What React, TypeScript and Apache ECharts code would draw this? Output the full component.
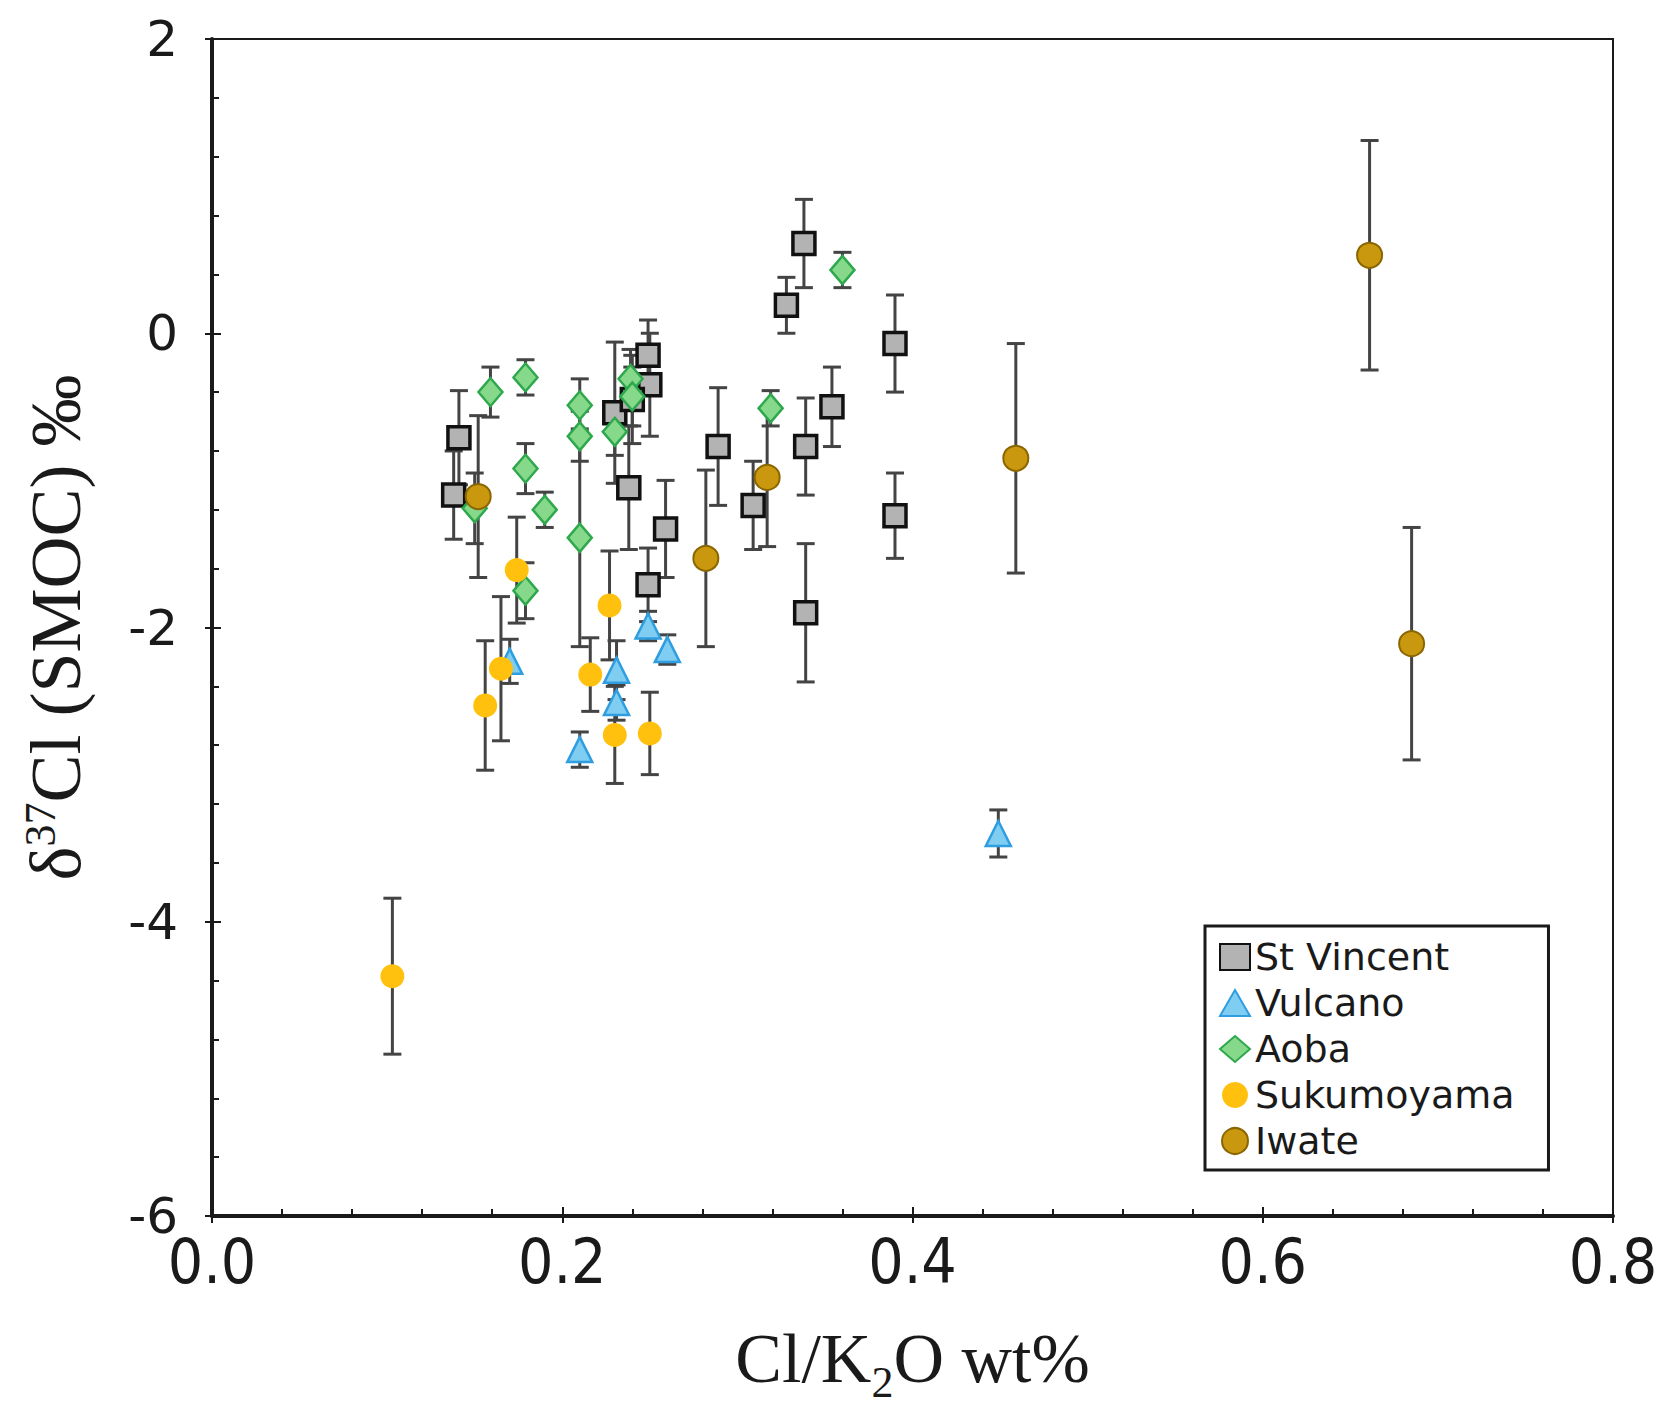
import React, { useEffect, useRef } from "react";
import * as echarts from "echarts";

// [Cl/K2O wt%, δ37Cl ‰, error ±]
const stVincent: number[][] = [
  [0.138, -1.10, 0.30], [0.141, -0.71, 0.32], [0.230, -0.54, 0.48], [0.249, -0.15, 0.24],
  [0.250, -0.35, 0.35], [0.240, -0.45, 0.30], [0.238, -1.05, 0.42], [0.259, -1.33, 0.33],
  [0.249, -1.71, 0.25], [0.289, -0.77, 0.40], [0.309, -1.17, 0.30], [0.339, -0.77, 0.33],
  [0.328, 0.19, 0.19], [0.338, 0.61, 0.30], [0.354, -0.50, 0.27], [0.390, -0.07, 0.33],
  [0.390, -1.24, 0.29], [0.339, -1.90, 0.47],
];
const vulcano: number[][] = [
  [0.170, -2.23, 0.15], [0.231, -2.29, 0.20], [0.231, -2.51, 0.12], [0.210, -2.83, 0.12],
  [0.249, -1.99, 0.10], [0.260, -2.15, 0.10], [0.449, -3.40, 0.16],
];
const aoba: number[][] = [
  [0.159, -0.40, 0.17], [0.179, -0.30, 0.12], [0.210, -0.49, 0.18], [0.210, -0.70, 0.17],
  [0.210, -1.39, 0.74], [0.179, -0.92, 0.17], [0.190, -1.20, 0.12], [0.150, -1.19, 0.24],
  [0.239, -0.31, 0.20], [0.240, -0.43, 0.20], [0.230, -0.67, 0.16], [0.179, -1.75, 0.19],
  [0.319, -0.51, 0.12], [0.360, 0.43, 0.12],
];
const sukumoyama: number[][] = [
  [0.103, -4.37, 0.53], [0.174, -1.61, 0.36], [0.227, -1.85, 0.37], [0.216, -2.32, 0.25],
  [0.230, -2.73, 0.33], [0.250, -2.72, 0.28], [0.156, -2.53, 0.44], [0.165, -2.28, 0.49],
];
const iwate: number[][] = [
  [0.152, -1.11, 0.55], [0.282, -1.53, 0.60], [0.317, -0.98, 0.47], [0.459, -0.85, 0.78],
  [0.661, 0.53, 0.78], [0.685, -2.11, 0.79],
];

const seriesNames = ["St Vincent", "Vulcano", "Aoba", "Sukumoyama", "Iwate"];
const xTicks = { min: 0, max: 0.8, interval: 0.2 };
const yTicks = { min: -6, max: 2, interval: 2 };

export default function App() {
  const ref = useRef<HTMLDivElement>(null);
  useEffect(() => {
    if (!ref.current) return;
    const chart = echarts.init(ref.current, null, { renderer: "svg" });
    const allErr = [...stVincent, ...vulcano, ...aoba, ...sukumoyama, ...iwate];
    const ink = "#1a1a1a";
    const barColor = "#444";
    const option: any = {
      animation: false,
      backgroundColor: "#fff",
      grid: {
        left: 212, right: 52, top: 39, bottom: 200,
        outerBoundsMode: "none",
        containLabel: false,
        show: true, borderColor: ink, borderWidth: 2, backgroundColor: "transparent",
      },
      legend: {
        data: seriesNames,
        orient: "vertical",
        left: 1205,
        top: 926,
        backgroundColor: "#fff",
        borderColor: ink,
        borderWidth: 3,
        borderRadius: 0,
        padding: [12, 34, 10, 14],
        itemGap: 8,
        itemWidth: 30,
        itemHeight: 26,
        itemTextGap: 10,
        textStyle: { fontFamily: "DejaVu Sans", fontSize: 38, color: ink, lineHeight: 38 },
      },
      xAxis: [
        {
          type: "value", ...xTicks, position: "bottom",
          axisLine: { show: true, onZero: false, lineStyle: { color: ink, width: 4 } },
          axisTick: { show: true, inside: true, length: 9, lineStyle: { color: ink, width: 2 } },
          minorTick: { show: true, splitNumber: 5, length: 7, lineStyle: { color: ink, width: 2 } },
          splitLine: { show: false },
          axisLabel: {
            margin: 14, fontFamily: "'DejaVu Sans Condensed', 'Liberation Sans'", fontSize: 62, color: ink,
            formatter: (v: number) => v.toFixed(1),
          },
          name: "{a|Cl/K}{sub|2}{a|O wt%}",
          nameLocation: "middle",
          nameGap: 106,
          nameTextStyle: {
            rich: {
              a: { fontFamily: "Liberation Serif", fontSize: 70, color: ink, lineHeight: 72 },
              sub: { fontFamily: "Liberation Serif", fontSize: 44, color: ink, verticalAlign: "bottom", lineHeight: 72, padding: [0, 0, -10, 0] },
            },
          },
        },
        {
          type: "value", ...xTicks, position: "bottom",
          axisLine: { show: false, onZero: false },
          axisTick: { show: true, inside: false, length: 7, lineStyle: { color: ink, width: 2 } },
          axisLabel: { show: false },
          splitLine: { show: false },
        },
      ],
      yAxis: [
        {
          type: "value", ...yTicks, position: "left",
          axisLine: { show: true, onZero: false, lineStyle: { color: ink, width: 4 } },
          axisTick: { show: true, inside: true, length: 9, lineStyle: { color: ink, width: 2 } },
          minorTick: { show: true, splitNumber: 5, length: 7, lineStyle: { color: ink, width: 2 } },
          splitLine: { show: false },
          axisLabel: { margin: 34, fontFamily: "DejaVu Sans", fontSize: 50, color: ink },
          name: "{a|δ}{sup|37}{a|Cl (SMOC) ‰}",
          nameLocation: "middle",
          nameRotate: 90,
          nameGap: 118,
          nameTextStyle: {
            rich: {
              a: { fontFamily: "Liberation Serif", fontSize: 72, color: ink, lineHeight: 76 },
              sup: { fontFamily: "Liberation Serif", fontSize: 44, color: ink, verticalAlign: "top", lineHeight: 76, padding: [0, 0, 22, 0] },
            },
          },
        },
        {
          type: "value", ...yTicks, position: "left",
          axisLine: { show: false, onZero: false },
          axisTick: { show: true, inside: false, length: 7, lineStyle: { color: ink, width: 2 } },
          axisLabel: { show: false },
          splitLine: { show: false },
        },
      ],
      series: [
        {
          type: "custom",
          name: "errors",
          z: 1,
          silent: true,
          data: allErr,
          encode: { x: 0, y: 1 },
          renderItem: (params: any, api: any) => {
            const x = api.value(0);
            const y = api.value(1);
            const e = api.value(2);
            const t = api.coord([x, y + e]);
            const b = api.coord([x, y - e]);
            const c = 9;
            const style = { stroke: barColor, lineWidth: 3 };
            return {
              type: "group",
              children: [
                { type: "line", shape: { x1: t[0], y1: t[1], x2: b[0], y2: b[1] }, style },
                { type: "line", shape: { x1: t[0] - c, y1: t[1], x2: t[0] + c, y2: t[1] }, style },
                { type: "line", shape: { x1: b[0] - c, y1: b[1], x2: b[0] + c, y2: b[1] }, style },
              ],
            };
          },
        },
        {
          type: "scatter", name: "St Vincent", z: 3, symbol: "rect", symbolSize: 22,
          data: stVincent.map((d) => [d[0], d[1]]),
          itemStyle: { color: "#b3b3b3", borderColor: "#111", borderWidth: 3.5, opacity: 1 },
        },
        {
          type: "scatter", name: "Vulcano", z: 3, symbol: "triangle", symbolSize: 25,
          data: vulcano.map((d) => [d[0], d[1]]),
          itemStyle: { color: "#80cdf2", borderColor: "#2f9ee0", borderWidth: 2.5, opacity: 1 },
        },
        {
          type: "scatter", name: "Aoba", z: 3, symbol: "diamond", symbolSize: [24, 28],
          data: aoba.map((d) => [d[0], d[1]]),
          itemStyle: { color: "#86d98a", borderColor: "#2ea84c", borderWidth: 2.5, opacity: 1 },
        },
        {
          type: "scatter", name: "Sukumoyama", z: 3, symbol: "circle", symbolSize: 24,
          data: sukumoyama.map((d) => [d[0], d[1]]),
          itemStyle: { color: "#ffc10e", opacity: 1 },
        },
        {
          type: "scatter", name: "Iwate", z: 3, symbol: "circle", symbolSize: 25,
          data: iwate.map((d) => [d[0], d[1]]),
          itemStyle: { color: "#c9980f", borderColor: "#8a6600", borderWidth: 2, opacity: 1 },
        },
      ],
    };
    chart.setOption(option);
    return () => chart.dispose();
  }, []);
  return (
    <div
      ref={ref}
      style={{ position: "fixed", left: 0, top: 0, width: 1665, height: 1416, background: "#fff" }}
    />
  );
}
